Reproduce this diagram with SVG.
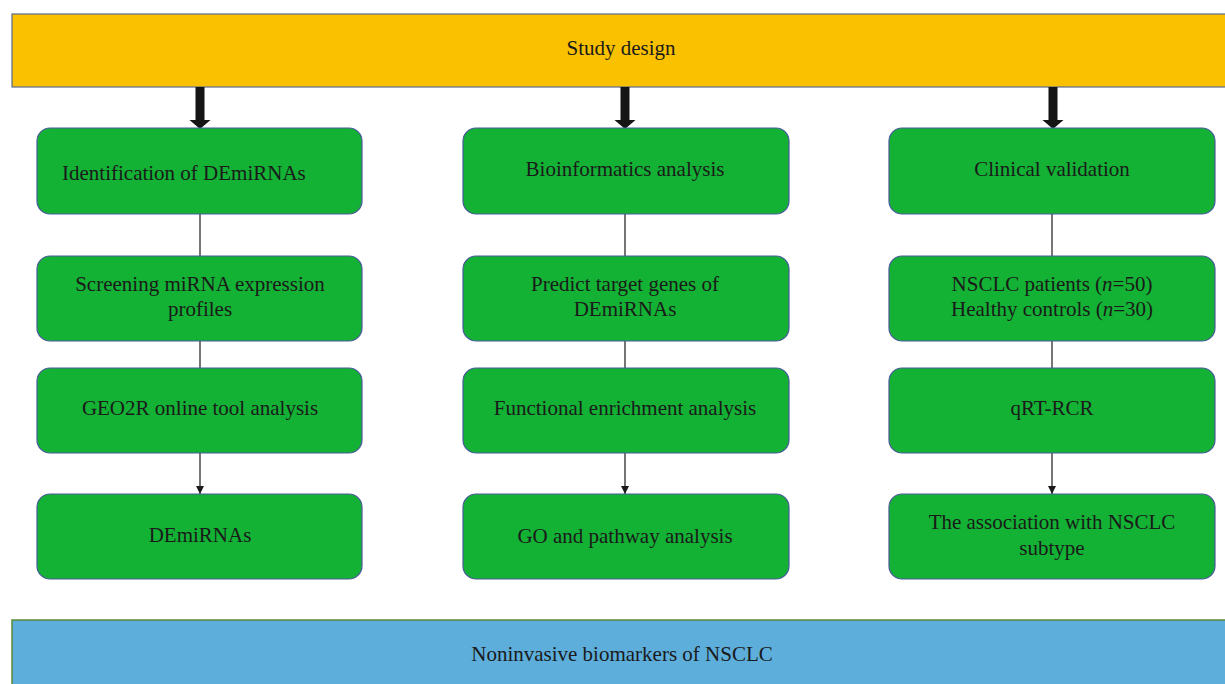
<svg xmlns="http://www.w3.org/2000/svg" width="1225" height="684" viewBox="0 0 1225 684">
<defs>
<marker id="ah" markerWidth="8" markerHeight="8" refX="8" refY="4" orient="auto" markerUnits="userSpaceOnUse" viewBox="0 0 8 8">
<path d="M0,0 L8,4 L0,8 Z" fill="#1a1a1a"/>
</marker>
</defs>
<style>
text{font-family:"Liberation Serif","Times New Roman",serif;font-size:21px;fill:#1a1a1a;text-anchor:middle}
.box{fill:#13b134;stroke:#4a5a9a;stroke-width:1.2}
.line{stroke:#1a1a1a;stroke-width:1.2;fill:none}
.big{fill:#151515}
</style>
<rect width="1225" height="684" fill="#ffffff"/>
<g id="study-design">
<rect x="12" y="14" width="1220" height="73" fill="#f9c100" stroke="#5a6a8a" stroke-width="1.2"/>
<text x="621" y="55">Study design</text>
</g>
<g id="connectors">
<path class="big" d="M195.5,87 h9 v33 h6 l-10.5,9 l-10.5,-9 h6 Z"/>
<path class="big" d="M620.5,87 h9 v33 h6 l-10.5,9 l-10.5,-9 h6 Z"/>
<path class="big" d="M1048.5,87 h9 v33 h6 l-10.5,9 l-10.5,-9 h6 Z"/>
<line class="line" x1="200" y1="214" x2="200" y2="256"/>
<line class="line" x1="200" y1="341" x2="200" y2="368"/>
<line class="line" x1="200" y1="453" x2="200" y2="494" marker-end="url(#ah)"/>
<line class="line" x1="625" y1="214" x2="625" y2="256"/>
<line class="line" x1="625" y1="341" x2="625" y2="368"/>
<line class="line" x1="625" y1="453" x2="625" y2="494" marker-end="url(#ah)"/>
<line class="line" x1="1052" y1="214" x2="1052" y2="256"/>
<line class="line" x1="1052" y1="341" x2="1052" y2="368"/>
<line class="line" x1="1052" y1="453" x2="1052" y2="494" marker-end="url(#ah)"/>
</g>
<g id="identification">
<rect class="box" x="37" y="128" width="325" height="86" rx="13"/>
<text x="62" y="180" style="text-anchor:start">Identification of DEmiRNAs</text>
</g>
<g id="screening">
<rect class="box" x="37" y="256" width="325" height="85" rx="13"/>
<text x="200" y="291">Screening miRNA expression</text>
<text x="200" y="316">profiles</text>
</g>
<g id="geo2r">
<rect class="box" x="37" y="368" width="325" height="85" rx="13"/>
<text x="200" y="415">GEO2R online tool analysis</text>
</g>
<g id="demirnas">
<rect class="box" x="37" y="494" width="325" height="85" rx="13"/>
<text x="200" y="542">DEmiRNAs</text>
</g>
<g id="bioinformatics">
<rect class="box" x="463" y="128" width="326" height="86" rx="13"/>
<text x="625" y="176">Bioinformatics analysis</text>
</g>
<g id="predict">
<rect class="box" x="463" y="256" width="326" height="85" rx="13"/>
<text x="625" y="291">Predict target genes of</text>
<text x="625" y="316">DEmiRNAs</text>
</g>
<g id="functional">
<rect class="box" x="463" y="368" width="326" height="85" rx="13"/>
<text x="625" y="415">Functional enrichment analysis</text>
</g>
<g id="go-pathway">
<rect class="box" x="463" y="494" width="326" height="85" rx="13"/>
<text x="625" y="543">GO and pathway analysis</text>
</g>
<g id="clinical">
<rect class="box" x="889" y="128" width="326" height="86" rx="13"/>
<text x="1052" y="176">Clinical validation</text>
</g>
<g id="patients">
<rect class="box" x="889" y="256" width="326" height="85" rx="13"/>
<text x="1052" y="291">NSCLC patients (<tspan font-style="italic">n</tspan>=50)</text>
<text x="1052" y="316">Healthy controls (<tspan font-style="italic">n</tspan>=30)</text>
</g>
<g id="qrt">
<rect class="box" x="889" y="368" width="326" height="85" rx="13"/>
<text x="1052" y="415">qRT-RCR</text>
</g>
<g id="association">
<rect class="box" x="889" y="494" width="326" height="85" rx="13"/>
<text x="1052" y="529">The association with NSCLC</text>
<text x="1052" y="555">subtype</text>
</g>
<g id="biomarkers">
<rect x="12" y="620" width="1220" height="80" fill="#5daedb" stroke="#5a8a3a" stroke-width="1.5"/>
<text x="622" y="661">Noninvasive biomarkers of NSCLC</text>
</g>
</svg>
